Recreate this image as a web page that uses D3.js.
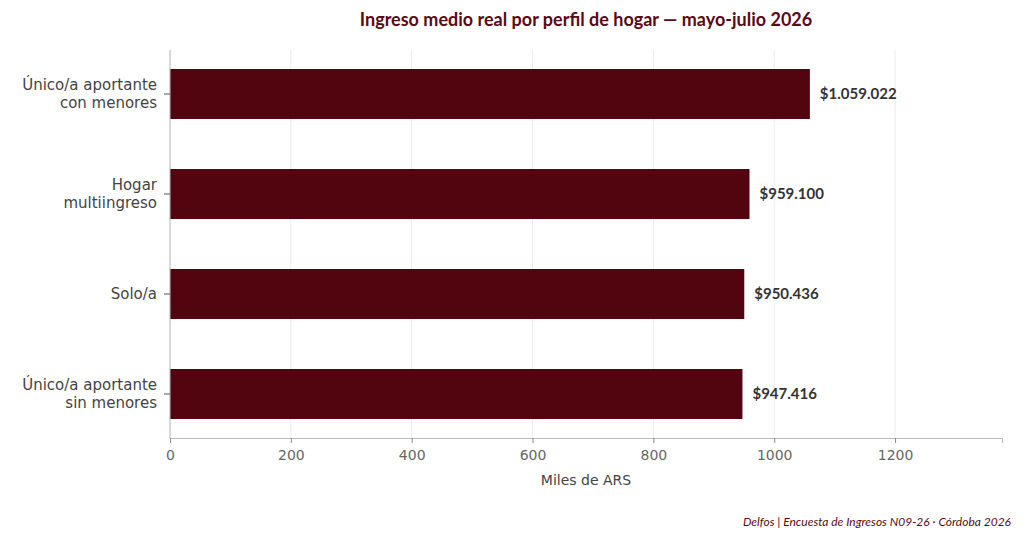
<!DOCTYPE html>
<html><head><meta charset="utf-8">
<script src="https://cdn.jsdelivr.net/npm/d3@7"></script>
<style>body{margin:0;background:#fff}</style></head>
<body><svg id="c" width="1024" height="541"></svg>
<script>
const categories = [["Único/a aportante","con menores"],["Hogar","multiingreso"],["Solo/a"],["Único/a aportante","sin menores"]];
const values = [1059.022, 959.100, 950.436, 947.416];
const valueLabels = ["$1.059.022","$959.100","$950.436","$947.416"];
const ticks = [0,200,400,600,800,1000,1200];

const svg = d3.select("#c");
const m = {l:170, r:1002, t:50, b:438};
const x = d3.scaleLinear().domain([0,1377]).range([m.l,m.r]);
const y = d3.scaleBand().domain(d3.range(categories.length)).range([m.t,m.b]).paddingInner(0.5).paddingOuter(0.19);

svg.selectAll(".g").data(ticks).join("line")
  .attr("x1",d=>x(d)).attr("x2",d=>x(d)).attr("y1",m.t).attr("y2",m.b)
  .attr("stroke","#ebebeb").attr("stroke-width",1);

svg.selectAll(".bar").data(values).join("rect")
  .attr("x",x(0)).attr("y",(d,i)=>y(i)).attr("width",d=>x(d)-x(0)).attr("height",y.bandwidth())
  .attr("fill","#53050f");

svg.selectAll(".vl").data(values).join("text")
  .attr("x",d=>x(d)+10).attr("y",(d,i)=>y(i)+y.bandwidth()/2).attr("dy","0.35em")
  .attr("font-family","Lato, 'Open Sans', sans-serif").attr("font-weight","bold").attr("font-size",15)
  .attr("fill","#333").text((d,i)=>valueLabels[i]);

const xa = svg.append("g").attr("transform",`translate(0,${m.b})`)
  .call(d3.axisBottom(x).tickValues(ticks).tickSize(5).tickFormat(d3.format("d")));
xa.select(".domain").attr("stroke","#bbb");
xa.selectAll(".tick line").attr("stroke","#888");
xa.selectAll("text").attr("font-family","DejaVu Sans").attr("font-size",14).attr("fill","#666").attr("dy","1em");

svg.append("line").attr("x1",m.l).attr("x2",m.l).attr("y1",m.t).attr("y2",m.b).attr("stroke","#bbb");

categories.forEach((lines,i)=>{
  const cy = y(i)+y.bandwidth()/2;
  svg.append("line").attr("x1",m.l-6).attr("x2",m.l).attr("y1",cy).attr("y2",cy).attr("stroke","#555");
  const t = svg.append("text").attr("text-anchor","end").attr("font-family","DejaVu Sans")
    .attr("font-size",15).attr("fill","#444");
  lines.forEach((s,j)=>{
    t.append("tspan").attr("x",m.l-13).attr("y",cy+(j-(lines.length-1)/2)*18).attr("dy","0.35em").text(s);
  });
});

svg.append("text").attr("x",(m.l+m.r)/2).attr("y",485).attr("text-anchor","middle")
  .attr("font-family","DejaVu Sans").attr("font-size",14).attr("fill","#444").text("Miles de ARS");

svg.append("text").attr("x",586).attr("y",26).attr("text-anchor","middle")
  .attr("font-family","Lato, 'Open Sans', sans-serif").attr("font-weight","bold").attr("font-size",18)
  .attr("fill","#5a0a14").text("Ingreso medio real por perfil de hogar — mayo-julio 2026");

svg.append("text").attr("x",1011).attr("y",526).attr("text-anchor","end")
  .attr("font-family","Lato, 'Open Sans', sans-serif").attr("font-style","italic").attr("font-size",12)
  .attr("fill","#5a0a14").text("Delfos | Encuesta de Ingresos N09-26 · Córdoba 2026");
</script></body></html>
